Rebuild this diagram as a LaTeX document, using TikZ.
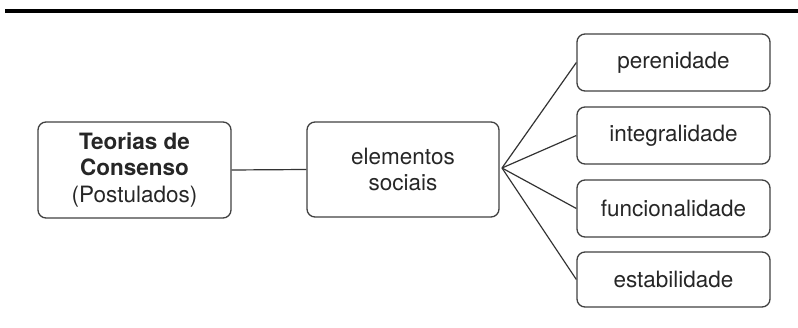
\documentclass[tikz,border=0pt]{standalone}
\usepackage{fontspec}
\setmainfont{TeX Gyre Heros}
\begin{document}
\begin{tikzpicture}[x=1pt,y=-1pt,
  box/.style={draw=black!75,line width=1.3pt,rounded corners=8pt,align=center,
    text=black!85,font=\fontsize{22.5}{26.5}\selectfont,inner sep=0pt},
  conn/.style={draw=black!80,line width=1.2pt}]
\useasboundingbox (0,0) rectangle (798,328);
\fill[black] (5,9) rectangle (798,13);
\node[box,minimum width=193pt,minimum height=96pt] (teo) at (134.5,170)
  {\textbf{Teorias de}\\\textbf{Consenso}\\(Postulados)};
\node[box,minimum width=192pt,minimum height=95pt] (ele) at (403,169.5)
  {elementos\\sociais};
\node[box,minimum width=193pt,minimum height=57pt] (per) at (673.5,62.5) {perenidade};
\node[box,minimum width=193pt,minimum height=57pt] (int) at (673.5,135.5) {integralidade};
\node[box,minimum width=193pt,minimum height=57pt] (fun) at (673.5,208.5) {funcionalidade};
\node[box,minimum width=193pt,minimum height=55pt] (est) at (673.5,279.5) {estabilidade};
\coordinate (fan) at (502,168);
\draw[conn] (teo.east) -- (ele.west);
\draw[conn] (fan) -- (per.west);
\draw[conn] (fan) -- (int.west);
\draw[conn] (fan) -- (fun.west);
\draw[conn] (fan) -- (est.west);
\end{tikzpicture}
\end{document}
